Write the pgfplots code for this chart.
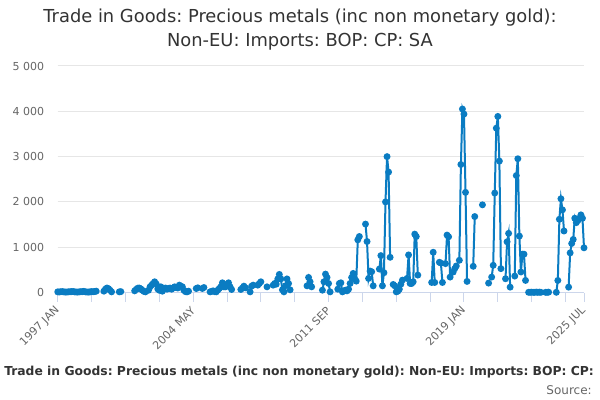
\documentclass[border=0pt]{standalone}
\usepackage{pgfplots}
\pgfplotsset{compat=1.18}
\usepackage{fontspec}
\setmainfont{DejaVu Sans}
\frenchspacing
\definecolor{series}{RGB}{10,124,194}
\definecolor{gridc}{RGB}{230,230,230}
\definecolor{xline}{RGB}{204,214,235}
\definecolor{lab}{RGB}{102,102,102}
\definecolor{titc}{RGB}{51,51,51}
\begin{document}
\begin{tikzpicture}
\path[use as bounding box] (0,0) rectangle (450pt,300pt);
\fill[white] (0,0) rectangle (450pt,300pt);
\begin{axis}[
  at={(43.3pt,80.6pt)}, anchor=south west,
  scale only axis, width=394.7pt, height=169.9pt,
  xmin=0, xmax=342, ymin=0, ymax=5000,
  axis lines*=left,
  x axis line style={color=xline, line width=0.75pt, -},
  y axis line style={draw=none},
  ymajorgrids, grid style={color=gridc, line width=0.75pt},
  ytick={0,1000,2000,3000,4000,5000},
  yticklabels={0,1 000,2 000,3 000,4 000,5 000},
  ytick style={draw=none},
  yticklabel style={font=\fontsize{8.25}{10}\selectfont, text=lab, anchor=east, inner sep=0pt, xshift=-3pt},
  xtick={0,88,176,264,342},
  xticklabels={1997 JAN,2004 MAY,2011 SEP,2019 JAN,2025 JUL},
  minor xtick={22,44,66,110,132,154,198,220,242,286,308,330},
  tick align=outside, major tick length=7pt, minor tick length=7pt,
  xtick style={color=xline, line width=0.75pt},
  minor x tick style={color=xline, line width=0.75pt},
  xticklabel style={font=\fontsize{8.25}{10}\selectfont, text=lab, inner sep=0pt, yshift=-5pt, xshift=0pt, rotate=45, anchor=east},
  unbounded coords=jump,
  clip=false,
]
\addplot[color=series, line width=1.5pt, mark=*, mark size=1.8pt, mark options={fill=series, draw=none}] coordinates {
(0,15)(1,12)(2,18)(3,20)(4,15)(5,10)(6,12)(7,15)(8,18)(9,20)(10,22)(11,15)(12,12)(13,10)(14,15)(15,18)(16,20)(17,25)(18,15)(19,12)(20,10)(21,15)(22,20)(23,18)(24,22)(25,30)
(26,nan)
(30,30)(31,75)(32,100)(33,85)(34,50)(35,15)
(36,nan)
(40,15)(41,20)
(42,nan)
(50,37)(51,70)(52,95)(53,100)(54,80)(55,50)(56,25)(57,15)
(58,nan)
(59,50)(60,126)(61,163)(62,200)(63,237)(64,190)(65,80)(66,50)(67,126)(68,30)(69,89)(70,100)(71,74)(72,90)(73,100)(74,74)(75,100)(76,126)(77,110)(78,100)(79,163)(80,140)(81,126)(82,50)(83,20)(84,15)(85,30)
(86,nan)
(90,89)(91,104)
(92,nan)
(94,89)(95,111)
(96,nan)
(99,15)(100,25)(101,37)(102,20)(103,15)(104,52)(105,90)(106,126)(107,215)(108,126)(109,126)(110,185)(111,215)(112,126)(113,67)
(114,nan)
(119,67)(120,100)(121,141)(122,104)
(123,nan)
(125,15)(126,141)(127,163)
(128,nan)
(130,163)(131,200)(132,237)
(133,nan)
(136,126)
(137,nan)
(140,163)(141,200)(142,185)(143,300)(144,400)(145,300)(146,60)(147,15)(148,150)(149,300)(150,200)(151,60)
(152,nan)
(162,148)(163,333)(164,237)(165,126)
(166,nan)
(172,52)(173,237)(174,407)(175,333)(176,200)(177,15)
(178,nan)
(182,74)(183,200)(184,215)(185,15)(186,37)(187,52)(188,37)(189,74)(190,200)(191,333)(192,422)(193,300)(194,252)(195,1163)(196,1237)
(197,nan)
(200,1511)(201,1126)(202,311)(203,474)(204,459)(205,148)
(206,nan)
(209,518)(210,815)(211,148)(212,437)(213,2000)(214,3000)(215,2659)(216,778)
(217,nan)
(218,178)(219,148)(220,15)(221,30)(222,74)(223,185)(224,274)
(225,nan)
(227,311)(228,830)(229,200)(230,200)(231,237)(232,1289)(233,1237)(234,385)
(235,nan)
(243,222)(244,889)(245,222)
(246,nan)
(248,667)(249,650)(250,222)
(251,nan)
(252,638)(253,1268)(254,1231)(255,341)
(256,nan)
(257,453)(258,527)(259,586)
(260,nan)
(261,712)(262,2826)(263,4050)(264,3939)(265,2211)(266,245)
(267,nan)
(270,579)(271,1677)
(272,nan)
(276,1936)
(277,nan)
(280,208)
(281,nan)
(282,341)(283,601)(284,2196)(285,3628)(286,3887)(287,2901)(288,527)
(289,nan)
(291,304)(292,1120)(293,1306)(294,119)
(295,nan)
(297,363)(298,2582)(299,2953)(300,1246)(301,453)(302,846)(303,846)(304,267)
(305,nan)
(306,5)(307,5)(308,8)(309,5)(310,5)(311,10)(312,5)(313,8)(314,5)
(315,nan)
(317,5)(318,5)(319,8)
(320,nan)
(324,5)(325,267)(326,1617)(327,2070)(328,1825)(329,1358)
(330,nan)
(332,119)(333,875)(334,1083)(335,1172)(336,1640)(337,1543)(338,1588)(339,1640)(340,1714)(341,1640)(342,987)
};
\end{axis}
\node[font=\fontsize{13.4}{16}\selectfont, text=titc] at (225pt,286.5pt) {Trade in Goods: Precious metals (inc non monetary gold):};
\node[font=\fontsize{13.4}{16}\selectfont, text=titc] at (225pt,269pt) {Non-EU: Imports: BOP: CP: SA};
\node[font=\bfseries\fontsize{9.25}{11}\selectfont, text=titc, anchor=west, inner sep=0pt] at (3pt,21pt) {Trade in Goods: Precious metals (inc non monetary gold): Non-EU: Imports: BOP: CP:};
\node[font=\fontsize{9}{11}\selectfont, text=lab, anchor=east, inner sep=0pt] at (444pt,7.5pt) {Source:};
\end{tikzpicture}
\end{document}
